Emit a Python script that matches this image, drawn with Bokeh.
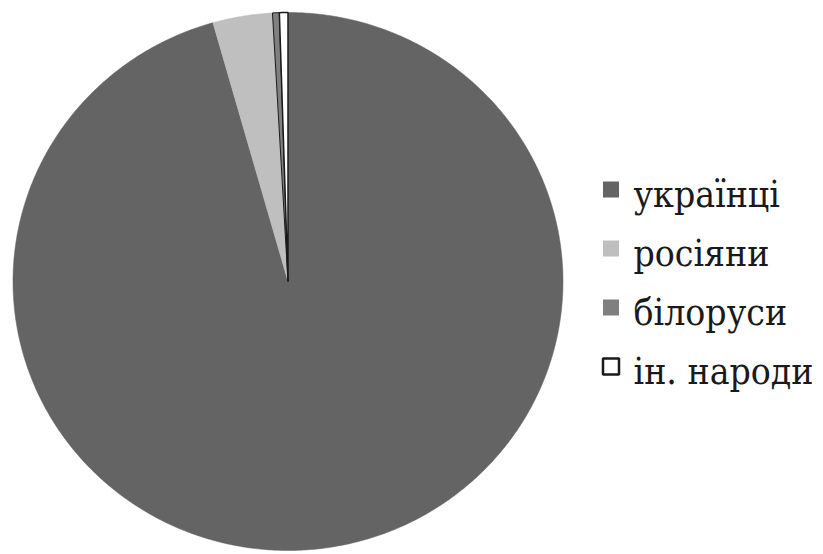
import numpy as np
from bokeh.plotting import figure
from bokeh.models import Range1d, ColumnDataSource
from bokeh.core.properties import value
from bokeh.embed import file_html
from bokeh.resources import INLINE

# Національний склад населення, %
groups = ["українці", "росіяни", "білоруси", "ін. народи"]
shares = [95.6, 3.5, 0.4, 0.5]
fill_colors = ["#646464", "#bfbfbf", "#7f7f7f", "#ffffff"]
line_colors = ["#646464", "#bfbfbf", "#1a1a1a", "#1a1a1a"]
line_widths = [0.5, 0.5, 1.0, 1.5]

W, H = 823, 554
p = figure(width=W, height=H, output_backend="svg", toolbar_location=None,
           x_range=Range1d(0, W), y_range=Range1d(H, 0), min_border=0)
p.axis.visible = False
p.grid.visible = False
p.outline_line_color = None
p.background_fill_color = "white"
p.border_fill_color = "white"

# pie: clockwise from 12 o'clock, slightly elliptical as in the source figure
cx, cy, rx, ry = 287.5, 281.0, 275.0, 269.0
vals = np.array(shares, dtype=float)
edges = np.concatenate([[0.0], np.cumsum(vals)]) / vals.sum() * 2 * np.pi
xs, ys = [], []
for a0, a1 in zip(edges[:-1], edges[1:]):
    n = max(4, int((a1 - a0) / (2 * np.pi) * 720))
    t = np.linspace(a0, a1, n)
    xs.append(np.concatenate([[cx], cx + rx * np.sin(t), [cx]]).tolist())
    ys.append(np.concatenate([[cy], cy - ry * np.cos(t), [cy]]).tolist())

src = ColumnDataSource(dict(xs=xs, ys=ys, fc=fill_colors, lc=line_colors, lw=line_widths))
p.patches("xs", "ys", source=src, fill_color="fc", line_color="lc", line_width="lw")

# legend
row_y = [189 + 59 * i for i in range(len(groups))]
marker_lines = [None, None, None, "#1a1a1a"]
for g, fc, lc, y in zip(groups, fill_colors, marker_lines, row_y):
    p.rect(x=[610.5], y=[y], width=16, height=16, fill_color=fc,
           line_color=lc, line_width=2.5 if lc else 0)
p.text(x=[633] * len(groups), y=[y + 5 for y in row_y], text=groups,
       text_font=value("DejaVu Serif Condensed"), text_font_size="37px",
       text_color="#1a1a1a", text_baseline="alphabetic", text_align="left")

open("out.html", "w").write(file_html(p, INLINE))
